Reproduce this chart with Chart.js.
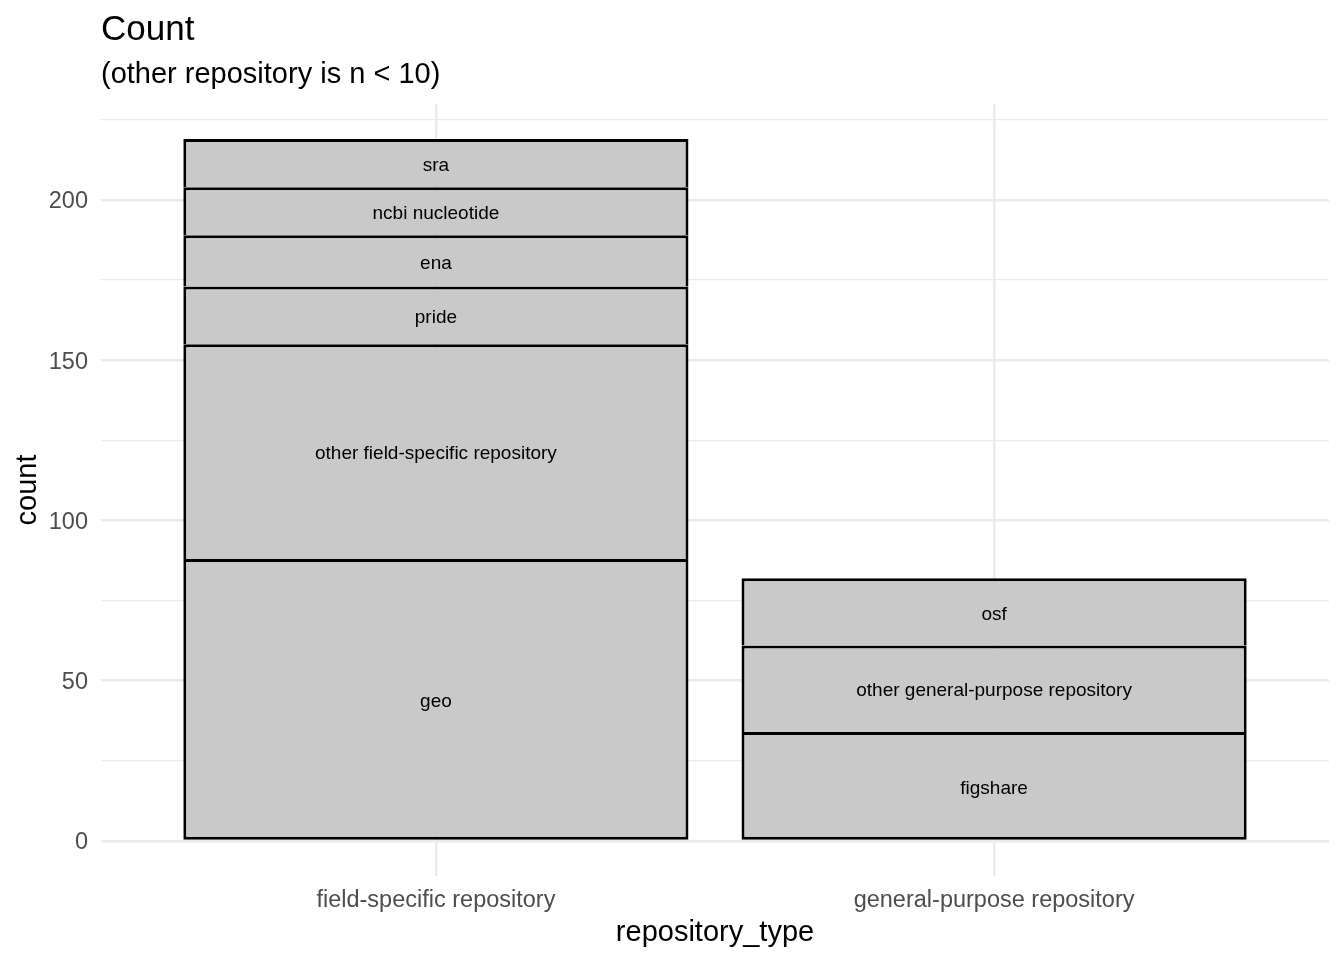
<!DOCTYPE html>
<html>
<head>
<meta charset="utf-8">
<script src="https://cdn.jsdelivr.net/npm/chart.js@4/dist/chart.umd.min.js"></script>
<style>
  html, body { margin: 0; padding: 0; background: #ffffff; }
  #wrap { width: 1344px; height: 960px; position: relative; }
</style>
</head>
<body>
<div id="wrap"><canvas id="c" width="1344" height="960"></canvas></div>
<script>
// ---- Data ----
const categories = ["field-specific repository", "general-purpose repository"];
const fieldRepos = ["geo", "other field-specific repository", "pride", "ena", "ncbi nucleotide", "sra"];
const fieldCounts = [88, 67, 18, 16, 15, 15];
const generalRepos = ["figshare", "other general-purpose repository", "osf"];
const generalCounts = [34, 27, 21];
const yMajorTicks = [0, 50, 100, 150, 200];
const yMinorTicks = [25, 75, 125, 175, 225];
const titleText = "Count";
const subtitleText = "(other repository is n < 10)";
const xTitle = "repository_type";
const yTitle = "count";

const FONT = "'Liberation Sans', Arial, Helvetica, sans-serif";

function seg(label, catIndex, value, isBottom) {
  return {
    label: label,
    stack: "s",
    data: [{ x: catIndex + 1, y: value }],
    backgroundColor: "#C9C9C9",
    borderColor: "#000000",
    borderWidth: { top: 3, left: 3, right: 3, bottom: isBottom ? 3 : 0 },
    borderSkipped: false,
    barPercentage: 0.905,
    categoryPercentage: 1.0
  };
}

const datasets = [];
fieldRepos.forEach((r, i) => datasets.push(seg(r, 0, fieldCounts[i], i === 0)));
generalRepos.forEach((r, i) => datasets.push(seg(r, 1, generalCounts[i], i === 0)));

const allTotals = [fieldCounts.reduce((a, b) => a + b, 0), generalCounts.reduce((a, b) => a + b, 0)];
const yMaxData = Math.max(...allTotals);
const yPad = yMaxData * 0.05;

const barLabels = {
  id: "barLabels",
  afterDatasetsDraw(chart) {
    const ctx = chart.ctx;
    ctx.save();
    ctx.font = "19px " + FONT;
    ctx.fillStyle = "#000000";
    ctx.textAlign = "center";
    ctx.textBaseline = "middle";
    chart.data.datasets.forEach((ds, di) => {
      const meta = chart.getDatasetMeta(di);
      meta.data.forEach(el => {
        const y = (el.y + el.base) / 2 + 2.5;
        ctx.fillText(ds.label, el.x, y);
      });
    });
    ctx.restore();
  }
};

const titles = {
  id: "titles",
  afterDraw(chart) {
    const ctx = chart.ctx;
    const left = chart.chartArea.left;
    ctx.save();
    ctx.fillStyle = "#000000";
    ctx.textAlign = "left";
    ctx.textBaseline = "alphabetic";
    ctx.font = "35px " + FONT;
    ctx.fillText(titleText, left, 40);
    ctx.font = "29px " + FONT;
    ctx.fillText(subtitleText, left, 83);
    ctx.restore();
  }
};

new Chart(document.getElementById("c"), {
  type: "bar",
  data: { datasets: datasets },
  options: {
    responsive: false,
    animation: false,
    devicePixelRatio: 1,
    layout: { padding: { left: 0, right: 15, top: 104, bottom: 0 } },
    plugins: {
      legend: { display: false },
      tooltip: { enabled: false },
      title: { display: false }
    },
    scales: {
      x: {
        type: "linear",
        offset: false,
        min: 0.4,
        max: 2.6,
        afterBuildTicks(scale) {
          scale.ticks = categories.map((c, i) => ({ value: i + 1 }));
        },
        afterFit(scale) { scale.height = 84; },
        grid: { color: "#EBEBEB", lineWidth: 2.5, drawTicks: false, offset: false },
        border: { display: false },
        ticks: {
          padding: 10,
          color: "#4D4D4D",
          font: { family: FONT, size: 23.5 },
          maxRotation: 0,
          autoSkip: false,
          callback: (v) => categories[Math.round(v) - 1] || ""
        },
        title: {
          display: true,
          text: xTitle,
          color: "#000000",
          font: { family: FONT, size: 29 },
          padding: { top: 0, bottom: 9.6 }
        }
      },
      y: {
        stacked: true,
        min: -yPad,
        max: yMaxData + yPad,
        afterBuildTicks(scale) {
          scale.ticks = [...yMajorTicks, ...yMinorTicks].sort((a, b) => a - b).map(v => ({ value: v }));
        },
        afterFit(scale) { scale.width = 101; },
        grid: {
          color: "#EBEBEB",
          lineWidth: (ctx) => (ctx.tick && yMajorTicks.includes(ctx.tick.value)) ? 2.5 : 1.2,
          drawTicks: false
        },
        border: { display: false },
        ticks: {
          padding: 13,
          labelOffset: 2,
          color: "#4D4D4D",
          font: { family: FONT, size: 23.5 },
          autoSkip: false,
          callback: (v) => yMajorTicks.includes(v) ? String(v) : ""
        },
        title: {
          display: true,
          text: yTitle,
          color: "#000000",
          font: { family: FONT, size: 29 },
          padding: { top: 10.6, bottom: 0 }
        }
      }
    }
  },
  plugins: [barLabels, titles]
});
</script>
</body>
</html>
